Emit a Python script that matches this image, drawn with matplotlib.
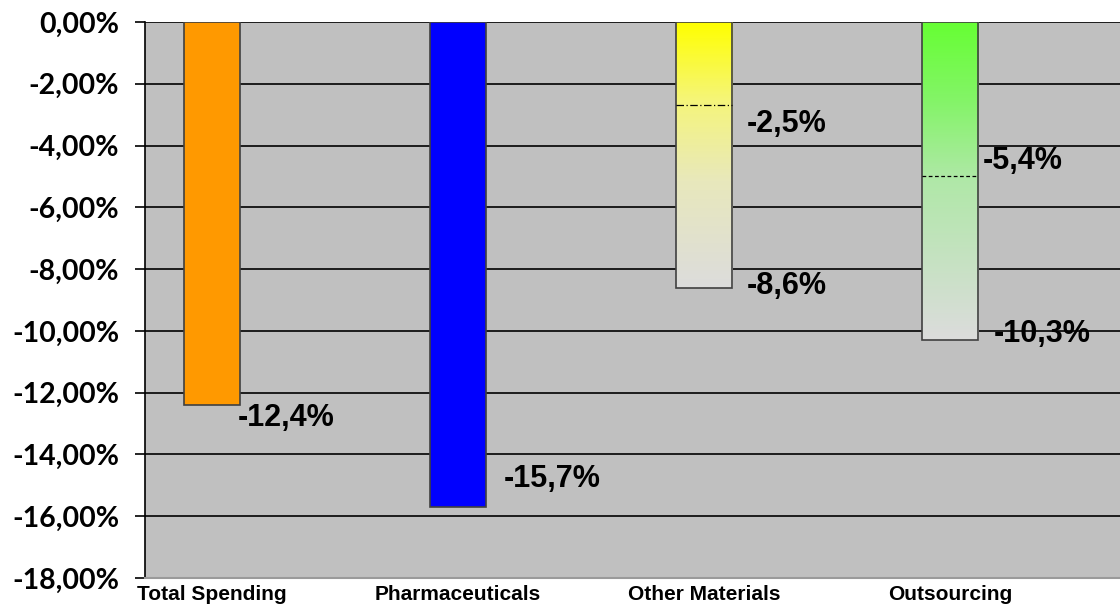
import numpy as np
import matplotlib
matplotlib.use("Agg")
import matplotlib.pyplot as plt
from matplotlib.colors import LinearSegmentedColormap

categories = ["Total Spending", "Pharmaceuticals", "Other Materials", "Outsourcing"]
values = [-12.4, -15.7, -8.6, -10.3]
labels = ["-12,4%", "-15,7%", "-8,6%", "-10,3%"]
# inner marks on the two range bars (Other Materials, Outsourcing)
mid_lines = [-2.7, -5.0]
mid_labels = ["-2,5%", "-5,4%"]
yticks = [0, -2, -4, -6, -8, -10, -12, -14, -16, -18]
ytick_labels = ["0,00%", "-2,00%", "-4,00%", "-6,00%", "-8,00%",
                "-10,00%", "-12,00%", "-14,00%", "-16,00%", "-18,00%"]

LABEL_FONT = ["Liberation Sans", "DejaVu Sans"]
TICK_FONT = ["Lato", "DejaVu Sans"]

fig = plt.figure(figsize=(11.2, 6.06), dpi=100)
ax = fig.add_axes([145 / 1120, 1 - 578 / 606, 1 - 145 / 1120, (578 - 22) / 606])
ax.set_facecolor("#C0C0C0")

x = np.arange(len(categories))
width = 0.228
edge = "#404040"

# grid lines (all but the bottom one)
for t in yticks[:-1]:
    ax.axhline(t, color="black", lw=1.2, zorder=1)

# solid bars
solid_colors = ["#FF9900", "#0000FF"]
ax.bar(x[:2], values[:2], width=width, color=solid_colors, edgecolor=edge,
       linewidth=1.2, zorder=3)

# gradient bars
grad_maps = [
    LinearSegmentedColormap.from_list("yel", [(0, "#FFFF00"), (0.3, "#F5F57C"),
                                              (0.6, "#E8E8BC"), (1, "#DCDCDC")]),
    LinearSegmentedColormap.from_list("grn", [(0, "#66FF33"), (0.25, "#84F468"),
                                              (0.5, "#B0E8A8"), (1, "#DCDCDC")]),
]
grad = np.linspace(0, 1, 256).reshape(-1, 1)
for i, cmap in zip(x[2:], grad_maps):
    v = values[i]
    ax.imshow(grad, cmap=cmap, aspect="auto", zorder=2.5,
              extent=(i - width / 2, i + width / 2, v, 0), origin="upper")
    ax.bar(i, v, width=width, facecolor="none", edgecolor=edge,
           linewidth=1.2, zorder=3)

# inner lines
ax.hlines(mid_lines[0], x[2] - width / 2, x[2] + width / 2, colors="black",
          linestyles=(0, (6, 2, 1, 2)), lw=0.9, zorder=4)
ax.hlines(mid_lines[1], x[3] - width / 2, x[3] + width / 2, colors="black",
          linestyles=(0, (3, 2)), lw=0.9, zorder=4)

# value labels
lab_kw = dict(fontsize=22, fontweight="bold", family=LABEL_FONT, va="center",
              ha="left", zorder=5)
dx = [-0.01, 0.07, 0.06, 0.065]
dy = [-0.42, 0.9, 0.05, 0.2]
for i in x:
    ax.text(i + width / 2 + dx[i], values[i] + dy[i], labels[i], **lab_kw)
ax.text(x[2] + width / 2 + 0.06, mid_lines[0] - 0.6, mid_labels[0], **lab_kw)
ax.text(x[3] + width / 2 + 0.02, mid_lines[1] + 0.5, mid_labels[1], **lab_kw)

ax.set_xlim(-0.272, 3.69)
ax.set_ylim(-18, 0)
ax.set_yticks(yticks)
ax.set_yticklabels(ytick_labels, fontsize=20.5, fontweight="bold", family=TICK_FONT)
ax.set_xticks(x)
ax.set_xticklabels(categories, fontsize=15, fontweight="bold", family=LABEL_FONT)
ax.tick_params(axis="y", length=7.5, width=1.2, pad=11)
ax.tick_params(axis="x", length=0, pad=5)

for s in ["top", "right"]:
    ax.spines[s].set_visible(False)
ax.spines["left"].set_color("black")
ax.spines["left"].set_linewidth(1.2)
ax.spines["bottom"].set_color("#9A9A9A")
ax.spines["bottom"].set_linewidth(1.5)

fig.savefig("out.png", dpi=100)
